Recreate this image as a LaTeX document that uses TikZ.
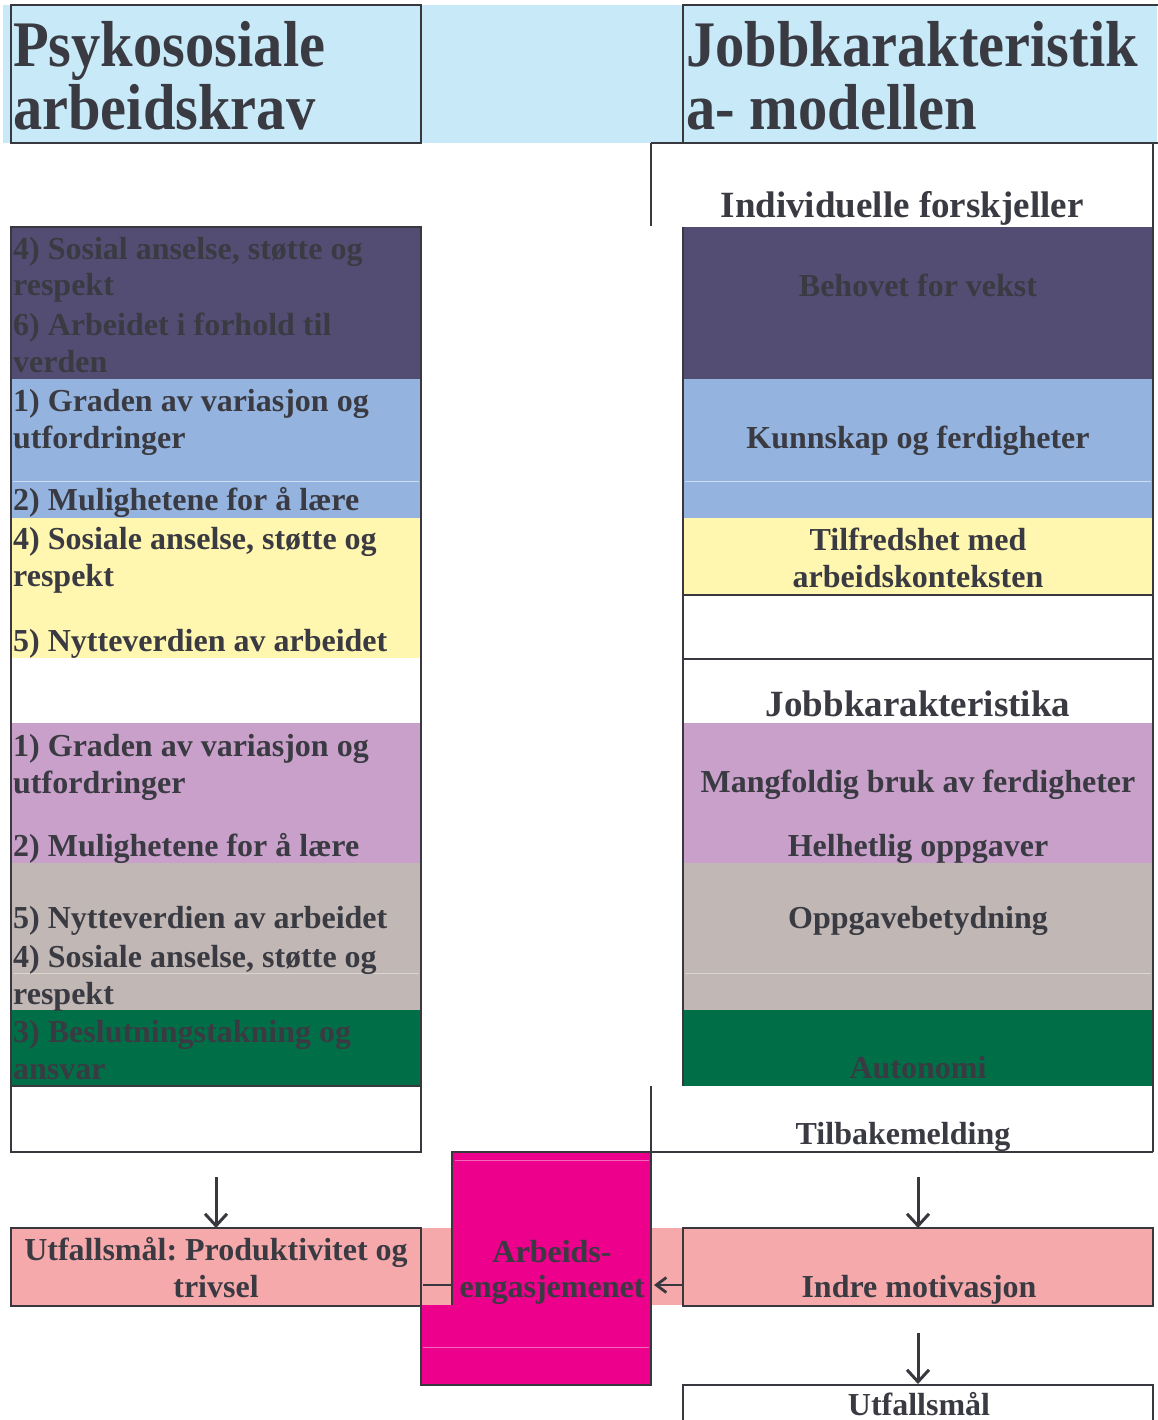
\documentclass[tikz,border=0pt]{standalone}
\usepackage{fontspec}
\setmainfont{Liberation Serif}
\newfontfamily\hdfont{Liberation Serif}[FakeStretch=0.9]
\usetikzlibrary{arrows.meta}
\definecolor{hblue}{HTML}{C8E9F8}
\definecolor{dpur}{HTML}{534D73}
\definecolor{mblue}{HTML}{94B4DF}
\definecolor{yel}{HTML}{FFF6AF}
\definecolor{lil}{HTML}{C9A0CA}
\definecolor{taupe}{HTML}{C1B7B4}
\definecolor{grn}{HTML}{006F47}
\definecolor{salmon}{HTML}{F5A9AA}
\definecolor{magenta}{HTML}{EC008C}
\definecolor{bdc}{HTML}{38383E}
\definecolor{txc}{HTML}{3A3A42}
\frenchspacing
\begin{document}
\begin{tikzpicture}[x=1pt,y=-1pt,
  bd/.style={draw=bdc, line width=2.5pt},
  tx/.style={text=txc, inner sep=0pt, anchor=base west, font=\bfseries\fontsize{32}{32}\selectfont},
  txm/.style={tx, anchor=base},
  txb/.style={txm, font=\bfseries\fontsize{37}{37}\selectfont},
  hd/.style={text=txc, inner sep=0pt, anchor=base west, font=\hdfont\bfseries\fontsize{65}{63}\selectfont},
  box/.style={inner sep=0pt, outer sep=0pt},
  arr/.style={draw=bdc, line width=3pt, -{Straight Barb[length=12pt,width=22pt]}},
  arrs/.style={draw=bdc, line width=2.8pt, -{Straight Barb[length=10pt,width=15pt]}},
  faint/.style={line width=1pt}
]
\useasboundingbox (0,0) rectangle (1157,1420);

% ---------- header band ----------
\fill[hblue] (3,5) rectangle (1157,143);
\draw[bd] (11,5) rectangle (421,143);
\draw[bd] (683,143) -- (683,5) -- (1160,5);
\draw[bd] (651,143) -- (1160,143);
\node[hd] (h1) at (13,67) {Psykososiale};
\node[hd] (h2) at (13,130) {arbeidskrav};
\node[hd] (h3) at (686,67) {Jobbkarakteristik};
\node[hd] (h4) at (686,130) {a- modellen};

% ---------- left column ----------
\fill[dpur] (11,227) rectangle (421,379);
\fill[mblue] (11,379) rectangle (421,518);
\fill[yel] (11,518) rectangle (421,658);
\fill[lil] (11,723) rectangle (421,863);
\fill[taupe] (11,863) rectangle (421,1010);
\fill[grn] (11,1010) rectangle (421,1086);
\draw[faint, white!55!mblue] (13,481) -- (419,481);
\draw[faint, white!40!taupe] (13,973) -- (419,973);
\draw[bd] (11,227) rectangle (421,1152);
\draw[bd] (11,1086) -- (421,1086);

\node[tx] (l1) at (13,260) {4) Sosial anselse, støtte og};
\node[tx] (l2) at (13,296) {respekt};
\node[tx] (l3) at (13,335) {6) Arbeidet i forhold til};
\node[tx] (l4) at (13,372) {verden};
\node[tx] (l5) at (13,411) {1) Graden av variasjon og};
\node[tx] (l6) at (13,448) {utfordringer};
\node[tx] (l7) at (13,510) {2) Mulighetene for å lære};
\node[tx] (l8) at (13,549) {4) Sosiale anselse, støtte og};
\node[tx] (l9) at (13,586) {respekt};
\node[tx] (l10) at (13,651) {5) Nytteverdien av arbeidet};
\node[tx] (l11) at (13,756) {1) Graden av variasjon og};
\node[tx] (l12) at (13,793) {utfordringer};
\node[tx] (l13) at (13,856) {2) Mulighetene for å lære};
\node[tx] (l14) at (13,928) {5) Nytteverdien av arbeidet};
\node[tx] (l15) at (13,967) {4) Sosiale anselse, støtte og};
\node[tx] (l16) at (13,1004) {respekt};
\node[tx] (l17) at (13,1042) {3) Beslutningstakning og};
\node[tx] (l18) at (13,1079) {ansvar};

% ---------- right column ----------
\draw[bd] (651,143) -- (651,226);
\node[txb] (r0) at (902,218) {Individuelle forskjeller};
\fill[dpur] (683,227) rectangle (1153,379);
\fill[mblue] (683,379) rectangle (1153,518);
\fill[yel] (683,518) rectangle (1153,595);
\fill[lil] (683,723) rectangle (1153,863);
\fill[taupe] (683,863) rectangle (1153,1010);
\fill[grn] (683,1010) rectangle (1153,1086);
\draw[faint, white!55!mblue] (685,481) -- (1151,481);
\draw[faint, white!40!taupe] (685,973) -- (1151,973);
\draw[bd] (683,227) -- (683,1086);
\draw[bd] (1153,143) -- (1153,1152);
\draw[bd] (683,595) -- (1153,595);
\draw[bd] (683,659) -- (1153,659);
\draw[bd] (651,1086) -- (651,1152) -- (1153,1152);

\node[txm] (r1) at (918,297) {Behovet for vekst};
\node[txm] (r2) at (918,448) {Kunnskap og ferdigheter};
\node[txm] (r3) at (918,550) {Tilfredshet med};
\node[txm] (r4) at (918,587) {arbeidskonteksten};
\node[txb] (r5) at (918,716) {Jobbkarakteristika};
\node[txm] (r6) at (918,792) {Mangfoldig bruk av ferdigheter};
\node[txm] (r7) at (918,856) {Helhetlig oppgaver};
\node[txm] (r8) at (918,928) {Oppgavebetydning};
\node[txm] (r9) at (918,1078) {Autonomi};
\node[txm] (r10) at (903,1144) {Tilbakemelding};

% ---------- bottom row ----------
\fill[salmon] (421,1228) rectangle (452,1305);
\fill[salmon] (651,1228) rectangle (683,1305);

\node[box, fill=salmon, draw=bdc, line width=2.5pt, minimum width=410pt, minimum height=78pt] (outL) at (216,1267) {};
\node[txm] (o1) at (216,1260) {Utfallsmål: Produktivitet og};
\node[txm] (o2) at (216,1297) {trivsel};

\node[box, fill=salmon, draw=bdc, line width=2.5pt, minimum width=470pt, minimum height=78pt] (motiv) at (918,1267) {};
\node[txm] (m1) at (919,1297) {Indre motivasjon};

% engagement box (L-shaped)
\fill[magenta] (452,1152) rectangle (651,1305);
\fill[magenta] (421,1305) rectangle (651,1385);
\node[box, minimum width=199pt, minimum height=233pt] (engage) at (551.5,1268.5) {};
\draw[faint, magenta!60!white] (455,1160) -- (649,1160);
\draw[faint, magenta!60!white] (423,1347) -- (649,1347);
\draw[bd] (452,1305) -- (452,1152) -- (651,1152) -- (651,1385) -- (421,1385) -- (421,1305);
\node[txm] (e1) at (552,1262) {Arbeids-};
\node[txm] (e2) at (552,1297) {engasjemenet};

% bottom right outcome box
\node[box, minimum width=470pt, minimum height=36pt] (utf) at (918,1402) {};
\draw[bd] (683,1425) -- (683,1385) -- (1153,1385) -- (1153,1425);
\node[txm] (u1) at (919,1415) {Utfallsmål};

% ---------- connectors ----------
\coordinate (a1) at (216,1177);
\coordinate (a2) at (918,1177);
\coordinate (a3) at (918,1333);
\coordinate (cy) at (0,1285);
\draw[arr] (a1) -- (outL.north);
\draw[arr] (a2) -- (motiv.north);
\draw[arr] (a3) -- (utf.north);
\draw[arrs, shorten >=3pt] (motiv.west |- cy) -- (engage.east |- cy);
\draw[bd] ([xshift=2pt]outL.east |- cy) -- (engage.west |- cy);
\end{tikzpicture}
\end{document}
